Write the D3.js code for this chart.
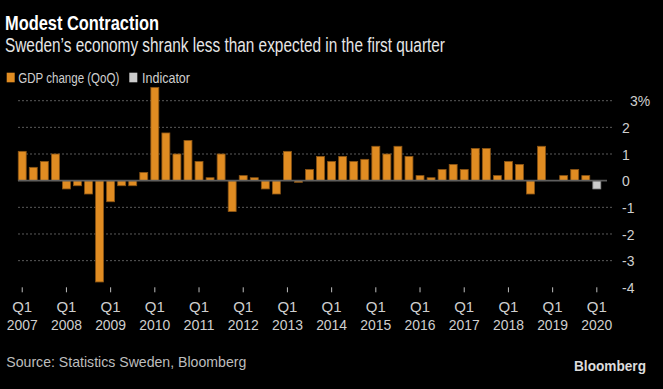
<!DOCTYPE html>
<html>
<head>
<meta charset="utf-8">
<script src="https://cdn.jsdelivr.net/npm/d3@7"></script>
<style>
  html, body { margin: 0; padding: 0; background: #000; }
  svg { display: block; }
  text { font-family: "Liberation Sans Narrow", "Liberation Sans", Arial, sans-serif; }
</style>
</head>
<body>
<svg id="chart" width="663" height="389"></svg>
<script>
// ---- data ----
const years = [2007,2008,2009,2010,2011,2012,2013,2014,2015,2016,2017,2018,2019,2020];
const quarters = [];
years.forEach(y => ["Q1","Q2","Q3","Q4"].forEach(q => { if (!(y === 2020 && q !== "Q1")) quarters.push(q + " " + y); }));
const gdpChange = [
  1.1, 0.5, 0.72, 1.0,
  -0.31, -0.19, -0.5, -3.8,
  -0.79, -0.19, -0.19, 0.31,
  3.5, 1.79, 1.0, 1.51,
  0.72, 0.11, 1.0, -1.16,
  0.19, 0.11, -0.31, -0.5,
  1.1, -0.06, 0.42, 0.91,
  0.72, 0.91, 0.72, 0.8,
  1.29, 1.0, 1.29, 0.91,
  0.19, 0.11, 0.42, 0.61,
  0.42, 1.21, 1.21, 0.19,
  0.72, 0.61, -0.5, 1.29,
  0, 0.19, 0.42, 0.19,
  null
];
const indicator = [{ q: "Q1 2020", v: -0.31 }];
const yTicks = [-4, -3, -2, -1, 0, 1, 2, 3];
const xTickQuarters = years.map(y => "Q1 " + y);

// ---- layout ----
const svg = d3.select("#chart");
svg.append("rect").attr("width", 663).attr("height", 389).attr("fill", "#000");

const x = d3.scaleBand().domain(quarters).range([16.7, 602.35]).paddingInner(0.28).paddingOuter(0.14);
const y = d3.scaleLinear().domain([-4, 3]).range([287.3, 100.7]);

// title / subtitle
svg.append("text").attr("x", 5).attr("y", 30).attr("fill", "#ffffff")
  .attr("font-size", 21).attr("font-weight", "bold")
  .attr("textLength", 154).attr("lengthAdjust", "spacingAndGlyphs")
  .text("Modest Contraction");
svg.append("text").attr("x", 5).attr("y", 52.3).attr("fill", "#e6e6e6")
  .attr("font-size", 20.5)
  .attr("textLength", 440).attr("lengthAdjust", "spacingAndGlyphs")
  .text("Sweden\u2019s economy shrank less than expected in the first quarter");

// legend
const legend = [
  { label: "GDP change (QoQ)", fill: "#e08c22", x: 6.7, tx: 18.3, w: 101 },
  { label: "Indicator", fill: "#cccccc", x: 129.3, tx: 142, w: 48 }
];
legend.forEach(l => {
  svg.append("rect").attr("x", l.x).attr("y", 72.7).attr("width", 8).attr("height", 9.6).attr("fill", l.fill);
  svg.append("text").attr("x", l.tx).attr("y", 82.5).attr("fill", "#cfcfcf")
    .attr("font-size", 14.5)
    .attr("textLength", l.w).attr("lengthAdjust", "spacingAndGlyphs")
    .text(l.label);
});

// gridlines
svg.append("g").selectAll("line").data(yTicks.filter(t => t !== 0 && t !== -4)).join("line")
  .attr("x1", 18).attr("x2", 612)
  .attr("y1", d => y(d)).attr("y2", d => y(d))
  .attr("stroke", "#5a5a5a").attr("stroke-width", 1).attr("stroke-dasharray", "2,2");

// bars
const gdpData = quarters.map((q, i) => ({ q, v: gdpChange[i] })).filter(d => d.v !== null);
svg.append("g").selectAll("rect").data(gdpData).join("rect")
  .attr("x", d => x(d.q))
  .attr("width", x.bandwidth())
  .attr("y", d => y(Math.max(0, d.v)))
  .attr("height", d => Math.abs(y(d.v) - y(0)))
  .attr("fill", "#e08c22").attr("stroke", "#8a5414").attr("stroke-width", 0.8);

svg.append("g").selectAll("rect").data(indicator).join("rect")
  .attr("x", d => x(d.q))
  .attr("width", x.bandwidth())
  .attr("y", d => y(Math.max(0, d.v)))
  .attr("height", d => Math.abs(y(d.v) - y(0)))
  .attr("fill", "#cccccc").attr("stroke", "#8a8a8a").attr("stroke-width", 0.8);

// zero line
svg.append("line").attr("x1", 18).attr("x2", 607).attr("y1", y(0)).attr("y2", y(0))
  .attr("stroke", "#5e5e5e").attr("stroke-width", 1.6);

// y axis labels (right)
svg.append("g").selectAll("text").data(yTicks).join("text")
  .attr("x", d => d === 3 ? 630 : 622)
  .attr("y", d => y(d))
  .attr("dy", "0.36em")
  .attr("fill", "#cfcfcf").attr("font-size", 15.5)
  .attr("font-family", "'Liberation Sans', Arial, sans-serif")
  .attr("transform", d => `translate(${d === 3 ? 630 : 622},0) scale(0.9,1) translate(${-(d === 3 ? 630 : 622)},0)`)
  .text(d => d === 3 ? "3%" : String(d));

// x axis ticks and labels
const xg = svg.append("g");
xg.selectAll("line").data(xTickQuarters).join("line")
  .attr("x1", d => x(d) + x.bandwidth() / 2).attr("x2", d => x(d) + x.bandwidth() / 2)
  .attr("y1", 287.3).attr("y2", 292.3)
  .attr("stroke", "#bdbdbd").attr("stroke-width", 1);
xg.selectAll("text.q").data(xTickQuarters).join("text").attr("class", "q")
  .attr("x", d => x(d) + x.bandwidth() / 2).attr("y", 312.3)
  .attr("text-anchor", "middle").attr("fill", "#cfcfcf").attr("font-size", 15)
  .attr("font-family", "'Liberation Sans', Arial, sans-serif")
  .text(d => d.split(" ")[0]);
xg.selectAll("text.yr").data(xTickQuarters).join("text").attr("class", "yr")
  .attr("x", d => x(d) + x.bandwidth() / 2).attr("y", 330)
  .attr("text-anchor", "middle").attr("fill", "#cfcfcf").attr("font-size", 15)
  .attr("font-family", "'Liberation Sans', Arial, sans-serif")
  .attr("textLength", 31).attr("lengthAdjust", "spacingAndGlyphs")
  .text(d => d.split(" ")[1]);

// source and logo
svg.append("text").attr("x", 6.3).attr("y", 366.5).attr("fill", "#bdbdbd")
  .attr("font-size", 15)
  .attr("textLength", 240).attr("lengthAdjust", "spacingAndGlyphs")
  .text("Source: Statistics Sweden, Bloomberg");
svg.append("text").attr("x", 574).attr("y", 371).attr("fill", "#dcdcdc")
  .attr("font-size", 14.5).attr("font-weight", "bold")
  .attr("font-family", "'Liberation Sans', Arial, sans-serif")
  .attr("textLength", 72).attr("lengthAdjust", "spacingAndGlyphs")
  .text("Bloomberg");
</script>
</body>
</html>
